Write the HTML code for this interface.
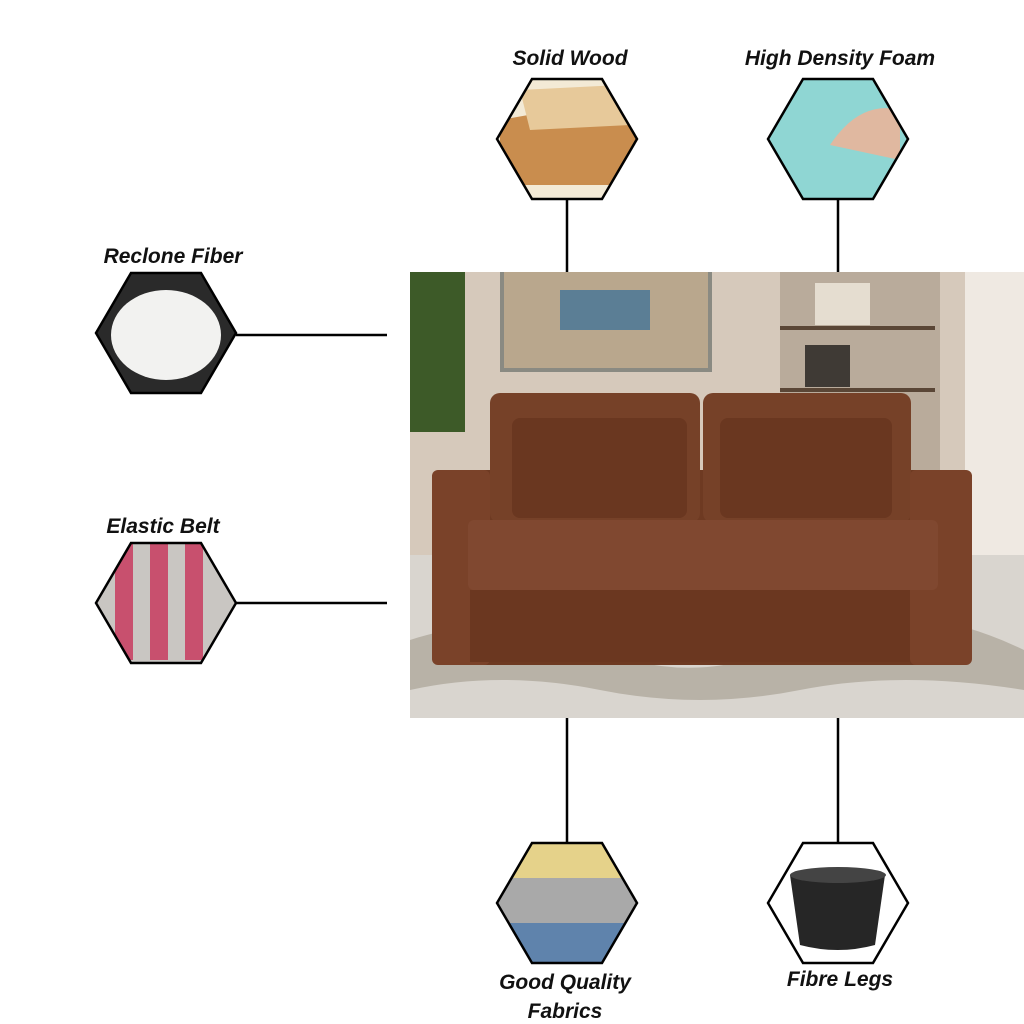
<!DOCTYPE html>
<html><head><meta charset="utf-8"><style>
html,body{margin:0;padding:0;background:#fff;}
.wrap{position:relative;width:1024px;height:1024px;overflow:hidden;background:#fff;}
.lbl{position:absolute;font-family:"Liberation Sans",sans-serif;font-weight:bold;font-style:italic;font-size:21px;color:#111;text-align:center;width:240px;}
</style></head><body><div class="wrap">
<svg width="1024" height="1024" style="position:absolute;left:0;top:0">
<defs>
<clipPath id="h1"><polygon points="497,139 532,79 602,79 637,139 602,199 532,199"/></clipPath>
<clipPath id="h2"><polygon points="768,139 803,79 873,79 908,139 873,199 803,199"/></clipPath>
<clipPath id="h3"><polygon points="96,333 131,273 201,273 236,333 201,393 131,393"/></clipPath>
<clipPath id="h4"><polygon points="96,603 131,543 201,543 236,603 201,663 131,663"/></clipPath>
<clipPath id="h5"><polygon points="497,903 532,843 602,843 637,903 602,963 532,963"/></clipPath>
<clipPath id="h6"><polygon points="768,903 803,843 873,843 908,903 873,963 803,963"/></clipPath>
</defs>
<!-- connectors -->
<g stroke="#000" stroke-width="2.5">
<line x1="567" y1="199" x2="567" y2="272"/><line x1="838" y1="199" x2="838" y2="272"/>
<line x1="236" y1="335" x2="387" y2="335"/><line x1="236" y1="603" x2="387" y2="603"/>
<line x1="567" y1="718" x2="567" y2="843"/><line x1="838" y1="718" x2="838" y2="843"/>
</g>
<!-- sofa photo -->
<rect x="410" y="272" width="614" height="446" fill="#d8cdc1"/>
<rect x="410" y="272" width="614" height="290" fill="#d6c9bb"/>
<rect x="500" y="272" width="212" height="100" fill="#8a8a82"/>
<rect x="504" y="272" width="204" height="96" fill="#b9a78d"/>
<rect x="560" y="290" width="90" height="40" fill="#5b7e95"/>
<rect x="780" y="272" width="160" height="200" fill="#b9ab9b"/>
<rect x="780" y="326" width="155" height="4" fill="#5a4636"/>
<rect x="780" y="388" width="155" height="4" fill="#5a4636"/>
<rect x="815" y="283" width="55" height="42" fill="#e5ddd0"/>
<rect x="805" y="345" width="45" height="42" fill="#3f3a35"/>
<rect x="965" y="272" width="59" height="290" fill="#efe9e2"/>
<rect x="410" y="272" width="55" height="160" fill="#3d5a28"/>
<rect x="410" y="555" width="614" height="163" fill="#d9d5cf"/>
<path d="M410 640 Q500 610 600 650 T800 640 T1024 650 L1024 690 Q900 670 800 690 T600 690 T410 690Z" fill="#b8b2a7"/>
<!-- sofa -->
<rect x="432" y="470" width="540" height="195" rx="8" fill="#6e3a22"/>
<rect x="490" y="393" width="210" height="130" rx="10" fill="#764128"/>
<rect x="703" y="393" width="208" height="130" rx="10" fill="#764128"/>
<rect x="512" y="418" width="175" height="100" rx="8" fill="#6a3720"/>
<rect x="720" y="418" width="172" height="100" rx="8" fill="#6a3720"/>
<rect x="432" y="470" width="58" height="195" rx="6" fill="#7a4229"/>
<rect x="910" y="470" width="62" height="195" rx="6" fill="#7a4229"/>
<rect x="468" y="520" width="470" height="70" rx="6" fill="#804830"/>
<rect x="470" y="590" width="440" height="72" fill="#6b3720"/>
<!-- hexes -->
<g clip-path="url(#h1)"><rect x="490" y="75" width="150" height="130" fill="#f3ead6"/><polygon points="500,120 640,95 640,185 500,185" fill="#c98d4e"/><polygon points="520,90 620,85 630,125 530,130" fill="#e7c99a"/></g>
<g clip-path="url(#h2)"><rect x="760" y="75" width="150" height="130" fill="#8fd6d3"/><path d="M830 145 Q860 100 900 110 L900 160 Z" fill="#e0b8a0"/></g>
<g clip-path="url(#h3)"><rect x="90" y="270" width="150" height="130" fill="#2a2a2a"/><ellipse cx="166" cy="335" rx="55" ry="45" fill="#f2f2f0"/></g>
<g clip-path="url(#h4)"><rect x="90" y="540" width="150" height="130" fill="#c9c6c2"/><rect x="115" y="540" width="18" height="120" fill="#c8506e"/><rect x="150" y="540" width="18" height="120" fill="#c8506e"/><rect x="185" y="540" width="18" height="120" fill="#c8506e"/></g>
<g clip-path="url(#h5)"><rect x="490" y="840" width="150" height="40" fill="#e5d28a"/><rect x="490" y="878" width="150" height="45" fill="#a9a9a9"/><rect x="490" y="923" width="150" height="45" fill="#5f83ac"/></g>
<g clip-path="url(#h6)"><rect x="760" y="840" width="150" height="130" fill="#fff"/><path d="M790 875 L885 875 L875 945 Q838 955 800 945 Z" fill="#262626"/><ellipse cx="838" cy="875" rx="48" ry="8" fill="#444"/></g>
<g fill="none" stroke="#000" stroke-width="2.5">
<polygon points="497,139 532,79 602,79 637,139 602,199 532,199"/>
<polygon points="768,139 803,79 873,79 908,139 873,199 803,199"/>
<polygon points="96,333 131,273 201,273 236,333 201,393 131,393"/>
<polygon points="96,603 131,543 201,543 236,603 201,663 131,663"/>
<polygon points="497,903 532,843 602,843 637,903 602,963 532,963"/>
<polygon points="768,903 803,843 873,843 908,903 873,963 803,963"/>
</g>
</svg>
<div class="lbl" style="left:450px;top:47px">Solid Wood</div>
<div class="lbl" style="left:720px;top:47px">High Density Foam</div>
<div class="lbl" style="left:53px;top:245px">Reclone Fiber</div>
<div class="lbl" style="left:43px;top:515px">Elastic Belt</div>
<div class="lbl" style="left:445px;top:968px;line-height:29px">Good Quality<br>Fabrics</div>
<div class="lbl" style="left:720px;top:968px">Fibre Legs</div>
</div></body></html>
